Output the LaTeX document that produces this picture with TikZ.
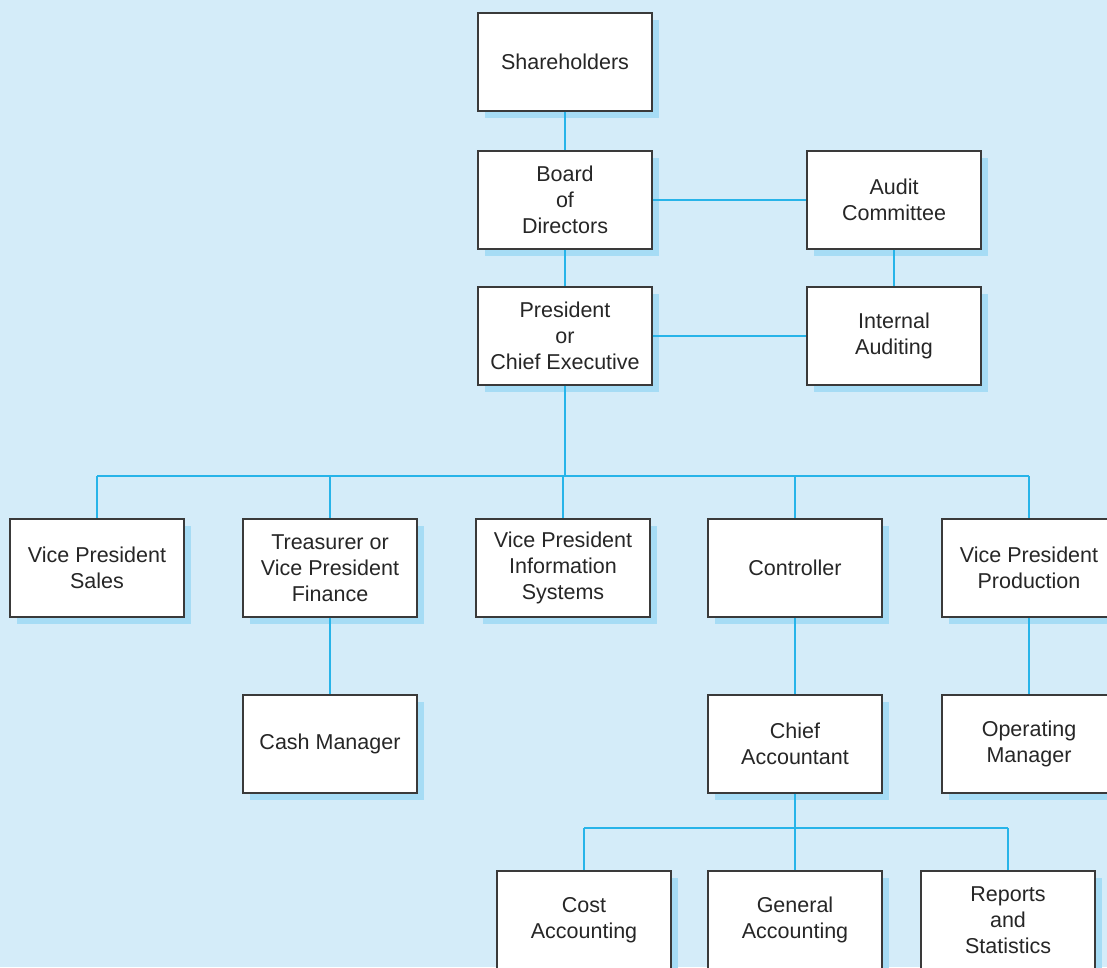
\documentclass[tikz,border=0pt]{standalone}
\usepackage{fontspec}
\setmainfont{Liberation Sans}
\usetikzlibrary{shadows}
\definecolor{bgblue}{HTML}{D4ECF9}
\definecolor{shadeblue}{HTML}{A6DCF5}
\definecolor{linkblue}{HTML}{27B4E9}
\definecolor{edgegray}{HTML}{3A3A3A}
\tikzset{
  post/.style={draw=edgegray, line width=1.4pt, fill=white, text=black!85,
    minimum width=174pt, minimum height=98pt, align=center, inner sep=0pt,
    font=\fontsize{21.5}{26}\selectfont,
    drop shadow={shadow xshift=7pt, shadow yshift=-7pt, fill=shadeblue, opacity=1}},
  link/.style={draw=linkblue, line width=1.3pt}
}
\begin{document}
\begin{tikzpicture}[x=1pt, y=-1pt]
    \fill [bgblue] (0,0) rectangle (1107,967);
    \useasboundingbox (0,0) rectangle (1107,967);
    \node [post] (share) at (565,62)  {Shareholders};
    \node [post] (board) at (565,200) {Board\\of\\Directors};
    \node [post] (audit) at (894,200) {Audit\\Committee};
    \node [post] (pres)  at (565,336) {President\\or\\Chief Executive};
    \node [post] (inaud) at (894,336) {Internal\\Auditing};
    \node [post] (sales) at (97,568)   {Vice President\\Sales};
    \node [post] (treas) at (330,568)  {Treasurer or\\Vice President\\Finance};
    \node [post] (infos) at (563,568)  {Vice President\\Information\\Systems};
    \node [post] (contr) at (795,568)  {Controller};
    \node [post] (prod)  at (1029,568) {Vice President\\Production};
    \node [post] (cash)  at (330,744)  {Cash Manager};
    \node [post] (chief) at (795,744)  {Chief\\Accountant};
    \node [post] (oper)  at (1029,744) {Operating\\Manager};
    \node [post] (cost)  at (584,920)  {Cost\\Accounting};
    \node [post] (genac) at (795,920)  {General\\Accounting};
    \node [post] (repst) at (1008,920) {Reports\\and\\Statistics};
    \coordinate (vpbus) at (565,476);
    \coordinate (acbus) at (795,828);
    \draw [link] (share) -- (board) (board) -- (pres)
                 (board) -- (audit) (audit) -- (inaud) (pres) -- (inaud)
                 (pres) -- (vpbus) (vpbus -| sales) -- (vpbus -| prod)
                 (treas) -- (cash) (contr) -- (chief) (prod) -- (oper)
                 (chief) -- (acbus) (acbus -| cost) -- (acbus -| repst);
    \foreach \vp in {sales,treas,infos,contr,prod}
      \draw [link] (vpbus -| \vp) -- (\vp);
    \foreach \ac in {cost,genac,repst}
      \draw [link] (acbus -| \ac) -- (\ac);
  \end{tikzpicture}
\end{document}
